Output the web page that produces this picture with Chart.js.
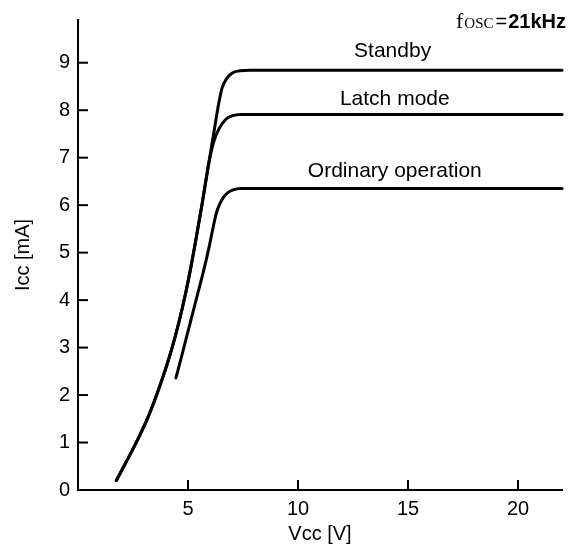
<!DOCTYPE html>
<html><head><meta charset="utf-8">
<script src="https://cdn.jsdelivr.net/npm/chart.js@4.4.0/dist/chart.umd.min.js"></script>
<style>html,body{margin:0;padding:0;background:#fff}</style>
</head><body>
<canvas id="c" width="570" height="546"></canvas>
<script>
// ---- data ----
const xTicks = [5, 10, 15, 20];
const yTicks = [0, 1, 2, 3, 4, 5, 6, 7, 8, 9];
const seriesNames = ['Standby', 'Latch mode', 'Ordinary operation'];

const standbyV = [1.74, 2.2, 2.7, 3.2, 3.65, 4.05, 4.4, 4.75, 5.05, 5.35, 5.65, 5.95, 6.2, 6.4, 6.55, 6.75, 7.0, 7.35, 7.8, 22];
const standbyI = [0.2, 0.6, 1.05, 1.55, 2.1, 2.65, 3.2, 3.85, 4.5, 5.25, 6.05, 6.9, 7.6, 8.15, 8.47, 8.66, 8.78, 8.83, 8.84, 8.84];

const latchV = [1.74, 2.2, 2.7, 3.2, 3.65, 4.05, 4.4, 4.75, 5.05, 5.35, 5.65, 5.95, 6.15, 6.4, 6.7, 7.0, 7.4, 22];
const latchI = [0.2, 0.6, 1.05, 1.55, 2.1, 2.65, 3.2, 3.85, 4.5, 5.25, 6.05, 6.9, 7.3, 7.6, 7.8, 7.88, 7.91, 7.91];

const ordV = [4.45, 4.7, 4.95, 5.2, 5.45, 5.7, 5.95, 6.15, 6.3, 6.45, 6.6, 6.8, 7.05, 7.4, 22];
const ordI = [2.36, 2.8, 3.25, 3.7, 4.15, 4.6, 5.1, 5.55, 5.85, 6.03, 6.16, 6.26, 6.32, 6.35, 6.35];

// ---- styling / annotation placement ----
const FONT = "'Liberation Sans', Arial, Helvetica, sans-serif";
const labelPos = [ {x: 14.3, y: 9.24}, {x: 14.4, y: 8.23}, {x: 14.4, y: 6.71} ];

const toPts = (xs, ys) => xs.map((v, i) => ({x: v, y: ys[i]}));
const mk = (label, xs, ys) => ({
  label, data: toPts(xs, ys), showLine: true, borderColor: '#000', borderWidth: 3,
  pointRadius: 0, cubicInterpolationMode: 'monotone', fill: false, clip: false,
  borderCapStyle: 'round', borderJoinStyle: 'round'
});

const decor = {
  id: 'decor',
  afterDraw(chart) {
    const {ctx, scales: {x, y}, chartArea: a} = chart;
    ctx.save();
    ctx.strokeStyle = '#000';
    ctx.lineWidth = 2;
    // inward tick marks
    xTicks.forEach(v => {
      const px = x.getPixelForValue(v);
      ctx.beginPath(); ctx.moveTo(px, a.bottom); ctx.lineTo(px, a.bottom - 10); ctx.stroke();
    });
    yTicks.forEach(v => {
      const py = y.getPixelForValue(v);
      ctx.beginPath(); ctx.moveTo(a.left, py); ctx.lineTo(a.left + 10, py); ctx.stroke();
    });
    // series labels
    ctx.fillStyle = '#000';
    ctx.textAlign = 'center';
    ctx.textBaseline = 'middle';
    ctx.font = '21px ' + FONT;
    seriesNames.forEach((n, i) => {
      ctx.fillText(n, x.getPixelForValue(labelPos[i].x), y.getPixelForValue(labelPos[i].y));
    });
    // f_osc = 21kHz
    ctx.textAlign = 'left';
    ctx.textBaseline = 'alphabetic';
    const base = 28;
    let cx = 456;
    ctx.font = '22px "Liberation Serif", "Times New Roman", serif';
    ctx.fillText('f', cx, base); cx += ctx.measureText('f').width + 1;
    ctx.font = '15px "Liberation Serif", "Times New Roman", serif';
    ctx.fillText('OSC', cx, base); cx += ctx.measureText('OSC').width + 2;
    ctx.font = '20px ' + FONT;
    ctx.fillText('=', cx, base); cx += ctx.measureText('=').width + 1;
    ctx.font = 'bold 20px ' + FONT;
    ctx.fillText('21kHz', cx, base);
    ctx.restore();
  }
};

new Chart(document.getElementById('c'), {
  type: 'scatter',
  data: { datasets: [ mk(seriesNames[0], standbyV, standbyI), mk(seriesNames[1], latchV, latchI), mk(seriesNames[2], ordV, ordI) ] },
  options: {
    responsive: false, animation: false,
    layout: { padding: { left: 0, right: 8, top: 20, bottom: 0 } },
    plugins: { legend: { display: false }, tooltip: { enabled: false } },
    scales: {
      x: {
        type: 'linear', min: 0, max: 22,
        afterBuildTicks: s => { s.ticks = xTicks.map(v => ({value: v})); },
        afterFit: s => { s.height = 56; },
        grid: { display: false, drawTicks: false },
        border: { display: true, color: '#000', width: 2 },
        ticks: { color: '#000', font: { size: 20, family: FONT }, padding: 7, maxRotation: 0, autoSkip: false },
        title: { display: true, text: 'Vcc [V]', color: '#000', font: { size: 20, family: FONT }, padding: { top: 0, bottom: 0 } }
      },
      y: {
        type: 'linear', min: 0, max: 9.9,
        afterBuildTicks: s => { s.ticks = yTicks.map(v => ({value: v})); },
        afterFit: s => { s.width = 78; },
        grid: { display: false, drawTicks: false },
        border: { display: true, color: '#000', width: 2 },
        ticks: { color: '#000', font: { size: 20, family: FONT }, padding: 8, autoSkip: false },
        title: { display: true, text: 'Icc [mA]', color: '#000', font: { size: 20, family: FONT }, padding: { top: 11, bottom: 0 } }
      }
    }
  },
  plugins: [decor]
});
</script>
</body></html>
